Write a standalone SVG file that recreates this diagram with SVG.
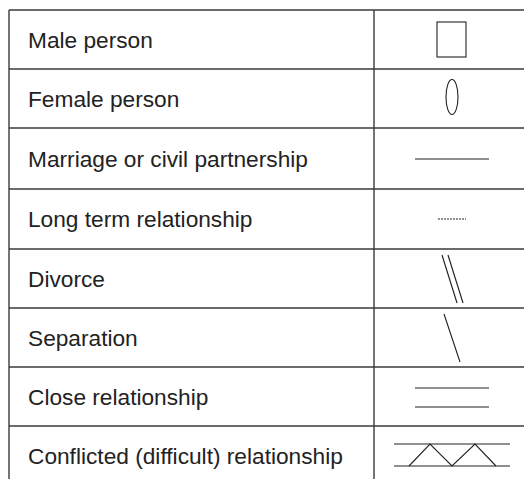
<svg xmlns="http://www.w3.org/2000/svg" width="524" height="479" viewBox="0 0 524 479">
<style>
.grid{stroke:#3a3a3a;stroke-width:1.4;fill:none}
.sym{stroke:#222;stroke-width:1.1;fill:none}
.lbl{font-family:"Liberation Sans",Arial,sans-serif;font-size:22.7px;fill:#222}
</style>
<rect width="524" height="479" fill="#fff"/>
<g id="table" class="grid">
<line x1="9" y1="10" x2="524" y2="10"/>
<line x1="9" y1="10" x2="9" y2="479"/>
<line x1="374" y1="10" x2="374" y2="479"/>
<line x1="9" y1="69" x2="524" y2="69"/>
<line x1="9" y1="128" x2="524" y2="128"/>
<line x1="9" y1="189" x2="524" y2="189"/>
<line x1="9" y1="249" x2="524" y2="249"/>
<line x1="9" y1="308" x2="524" y2="308"/>
<line x1="9" y1="367" x2="524" y2="367"/>
<line x1="9" y1="426" x2="524" y2="426"/>
</g>
<g id="row-male">
<text class="lbl" x="28" y="48">Male person</text>
<rect class="sym" x="437" y="22" width="29" height="35"/>
</g>
<g id="row-female">
<text class="lbl" x="28" y="107">Female person</text>
<ellipse class="sym" cx="452" cy="97" rx="6" ry="17.5"/>
</g>
<g id="row-marriage">
<text class="lbl" x="28" y="167">Marriage or civil partnership</text>
<line class="sym" x1="415" y1="159" x2="489" y2="159"/>
</g>
<g id="row-longterm">
<text class="lbl" x="28" y="227">Long term relationship</text>
<line class="sym" x1="438" y1="219" x2="466" y2="219" stroke-dasharray="2 1" stroke-width="1.4"/>
</g>
<g id="row-divorce">
<text class="lbl" x="28" y="287">Divorce</text>
<line class="sym" x1="442" y1="255" x2="457" y2="303"/>
<line class="sym" x1="448" y1="255" x2="463" y2="303"/>
</g>
<g id="row-separation">
<text class="lbl" x="28" y="346">Separation</text>
<line class="sym" x1="444" y1="314" x2="460" y2="362"/>
</g>
<g id="row-close">
<text class="lbl" x="28" y="405">Close relationship</text>
<line class="sym" x1="415" y1="388" x2="489" y2="388"/>
<line class="sym" x1="415" y1="407" x2="489" y2="407"/>
</g>
<g id="row-conflicted">
<text class="lbl" x="28" y="464">Conflicted (difficult) relationship</text>
<line class="sym" x1="394" y1="444" x2="510" y2="444"/>
<line class="sym" x1="394" y1="466" x2="510" y2="466"/>
<polyline class="sym" points="409,466 430,444 452,466 475,444 496,466"/>
</g>
</svg>
